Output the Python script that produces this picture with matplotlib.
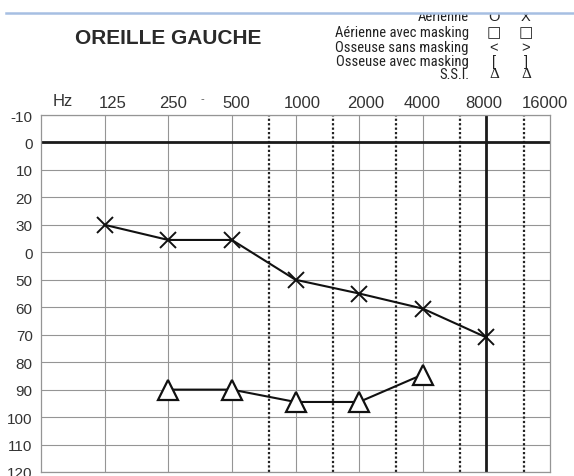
import matplotlib
matplotlib.use("Agg")
import matplotlib.pyplot as plt
from matplotlib.patches import Rectangle
from matplotlib.lines import Line2D
import matplotlib.transforms as mtransforms

# audiogram data (left ear)
air_freqs = [125, 250, 500, 1000, 2000, 4000, 8000]
air_db = [30, 35.5, 35.5, 50, 55, 60.5, 71]
ssi_freqs = [250, 500, 1000, 2000, 4000]
ssi_db = [90, 90, 94.5, 94.5, 84.5]

octave_freqs = [125, 250, 500, 1000, 2000, 4000]
half_octave_freqs = [750, 1500, 3000, 6000, 12000]
freq_labels = ["125", "250", "500", "1000", "2000", "4000", "8000", "16000"]
label_freqs = [125, 250, 500, 1000, 2000, 4000, 8000, 16000]
db_ticks = list(range(-10, 121, 10))
db_labels = ["-10", "0", "10", "20", "30", "0", "50", "60", "70", "80",
             "90", "100", "110", "120"]

legend_rows = ["Aérienne", "Aérienne avec masking", "Osseuse sans masking",
               "Osseuse avec masking", "S.S.I."]
legend_right = ["O", "□", "<", "[", "Δ"]
legend_left = ["X", "□", ">", "]", "Δ"]

W, H = 574, 477
fig = plt.figure(figsize=(W / 100, H / 100), dpi=100)


def px(x, y):
    return x / W, 1 - y / H


ax = fig.add_axes([41 / W, 1 - 473 / H, 509 / W, 357 / H])
ax.set_xscale("log", base=2)
ax.set_xlim(62.5, 16000)
ax.set_ylim(120, -10)

# grid
for d in db_ticks:
    ax.axhline(d, color="#959595", lw=0.8, zorder=1)
ax.axhline(0, color="#1a1a1a", lw=2.0, zorder=2)
for f in octave_freqs:
    ax.axvline(f, color="#959595", lw=0.8, zorder=1)
for f in half_octave_freqs:
    ax.axvline(f, color="#222222", lw=1.6, ls=(0, (1, 1)), zorder=1)
ax.axvline(8000, color="#1a1a1a", lw=2.0, zorder=2)

for s in ax.spines.values():
    s.set_color("#959595")
    s.set_linewidth(0.9)

ax.set_xticks([])
ax.set_xticks([], minor=True)
ax.set_yticks(db_ticks)
ax.set_yticklabels(db_labels)
ax.tick_params(axis="y", length=0, pad=6, labelsize=11, labelcolor="#333333")
for t in ax.get_yticklabels():
    t.set_family("Liberation Sans")

# frequency labels above the chart
offsets = [8, 5, 4, 7, 7, -1, -3, -5]
for f, lab, dx in zip(label_freqs, freq_labels, offsets):
    tr = mtransforms.blended_transform_factory(ax.transData, fig.transFigure)
    tr = tr + mtransforms.ScaledTranslation(dx / 100, 0, fig.dpi_scale_trans)
    ax.text(f, 1 - 103 / H, lab, transform=tr, ha="center", va="center",
            fontsize=12, color="#333333", family="Liberation Sans")
fig.text(*px(63, 102), "Hz", ha="center", va="center", fontsize=12,
         color="#333333", family="Liberation Sans")
fig.text(*px(202, 99), "-", ha="center", va="center", fontsize=8,
         color="#555555", family="Liberation Sans")

# curves
ax.plot(air_freqs, air_db, color="#111111", lw=1.5, marker="x",
        markersize=11, markeredgewidth=1.4, zorder=5, clip_on=False)
ax.plot(ssi_freqs, ssi_db, color="#111111", lw=1.5, marker="^",
        markersize=14.5, markerfacecolor="white", markeredgewidth=1.6,
        markeredgecolor="#111111", zorder=5, clip_on=False)

# title and symbol legend
fig.text(*px(168, 39), "OREILLE GAUCHE", ha="center", va="center",
         fontsize=15, fontweight="bold", color="#2a2a2a",
         family="Liberation Sans")
narrow = ["Liberation Sans Narrow", "Arial Narrow", "Roboto Condensed",
          "Open Sans Condensed", "DejaVu Sans Condensed", "Liberation Sans"]
row_y = [17, 33, 48, 62, 75]
for y, lab, s1, s2 in zip(row_y, legend_rows, legend_right, legend_left):
    fig.text(*px(469, y), lab, ha="right", va="center", fontsize=10.5,
             color="#222222", family=narrow)
    if s1 == "Δ":
        fam, fs = ["Liberation Serif"], 11
    elif s1 == "□":
        fam, fs = ["DejaVu Sans"], 11
    else:
        fam, fs = ["Liberation Sans"], 10.5
    fig.text(*px(494, y), s1, ha="center", va="center", fontsize=fs,
             color="#222222", family=fam)
    fig.text(*px(526, y), s2, ha="center", va="center", fontsize=fs,
             color="#222222", family=fam)

# scan border at the top
fig.add_artist(Rectangle((0, 1 - 14 / H), 1, 14 / H, transform=fig.transFigure,
                         facecolor="white", edgecolor="none", zorder=20))
fig.add_artist(Line2D([6 / W, 1], [1 - 14 / H, 1 - 14 / H], transform=fig.transFigure,
                      color="#a6bfe2", lw=1.8, zorder=21))

fig.savefig("out.png", dpi=100)
